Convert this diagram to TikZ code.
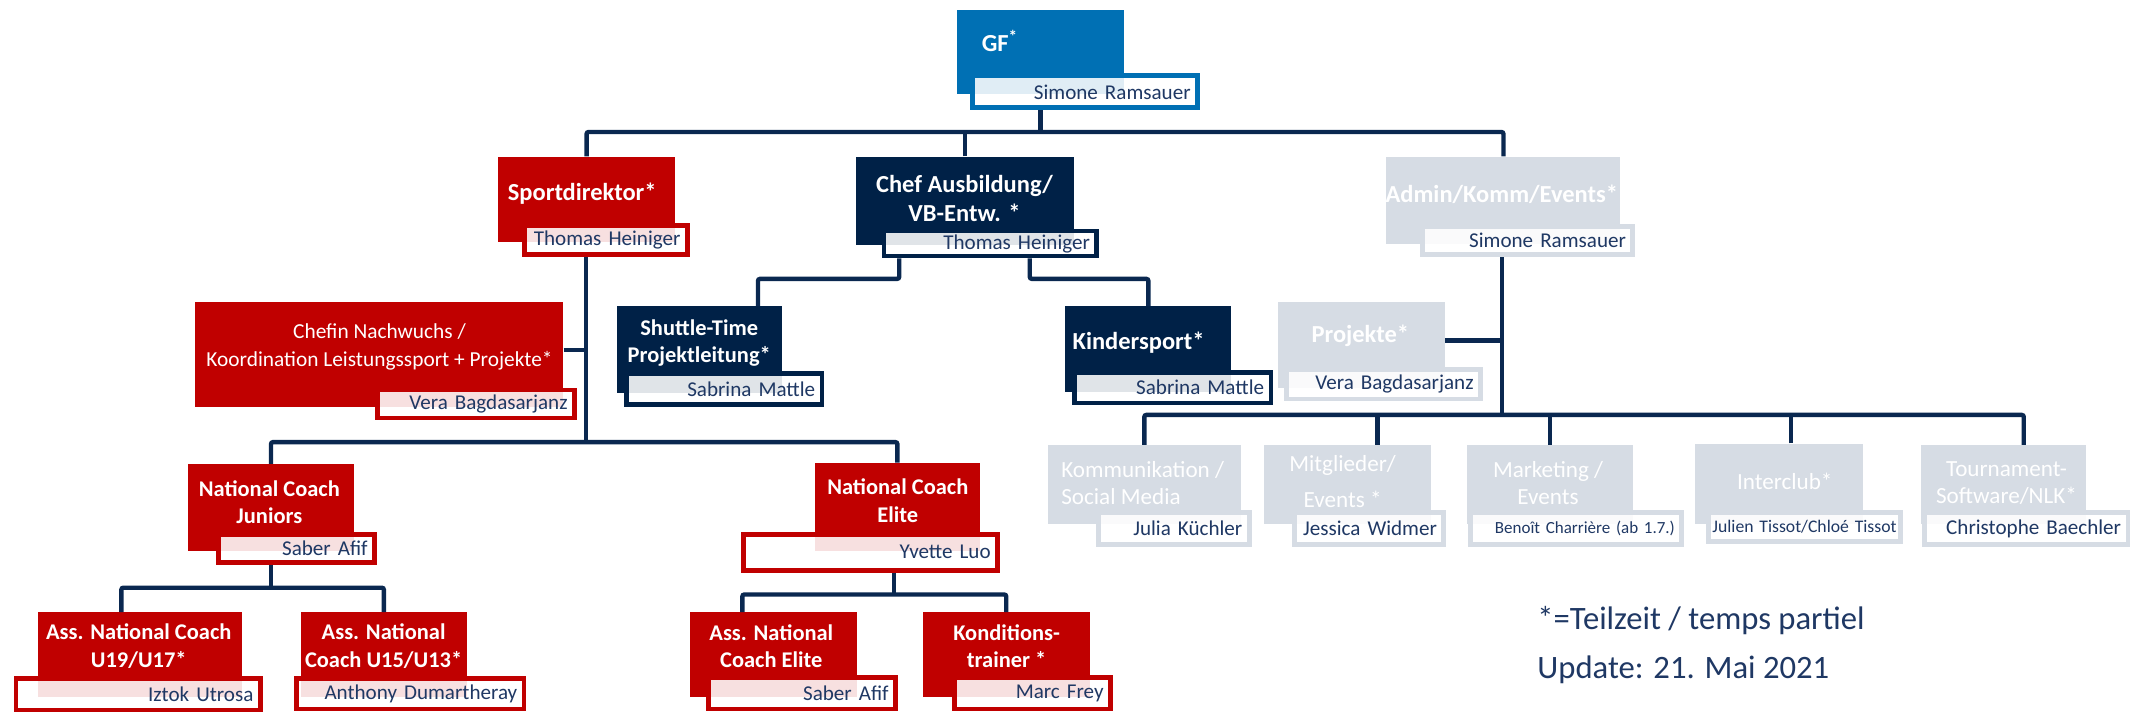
\documentclass[tikz,border=0pt]{standalone}
\usepackage{fontspec}
\setmainfont{Carlito}
\usetikzlibrary{positioning, calc}
\definecolor{gf blue}{RGB}{0,112,180}
\definecolor{sport red}{RGB}{192,0,0}
\definecolor{school navy}{RGB}{0,33,71}
\definecolor{admin grey}{RGB}{214,220,228}
\definecolor{name ink}{RGB}{31,56,100}
\definecolor{line navy}{RGB}{10,40,80}
\newcommand{\boxheadfont}{\fontsize{18}{21}\selectfont\bfseries}
\newcommand{\boxsmallheadfont}{\fontsize{16.5}{20}\selectfont\bfseries}
\newcommand{\boxplainfont}{\fontsize{17}{20}\selectfont}
\newcommand{\boxnamefont}{\fontsize{15.5}{18}\selectfont}
\tikzset{unitbox/.style={anchor=north west, inner sep=0pt, fill=#1}}
\tikzset{namebox/.style={anchor=north west, draw=#1, line width=3.5pt, fill=white, fill opacity=0.88, text opacity=1, inner xsep=5pt, inner ysep=0pt, align=right, text=name ink, font=\boxnamefont}}
\tikzset{headline/.style={text=white, align=center, inner sep=0pt, font=\boxheadfont}}
\tikzset{plainline/.style={text=white, align=center, inner sep=0pt, font=\boxplainfont}}
\tikzset{link/.style={draw=line navy, line width=3.2pt, rounded corners=1.5pt}}

\begin{document}
\begin{tikzpicture}[x=1pt, y=-1pt]
    \fill[white] (0,0) rectangle (1568,523);
    \useasboundingbox (0,0) rectangle (1568,523);

    % Geschaeftsfuehrung
    \node[unitbox=gf blue, minimum width=123, minimum height=62] (gf) at (703,7) {};
    \node[headline] (gf-t) at (735,30) {GF\textsuperscript{*}};
    \node[namebox=gf blue, text width=155.5, minimum height=23.5] (gf-n) at (713,54) {Simone Ramsauer};

    % erste Ebene
    \node[unitbox=sport red, minimum width=130, minimum height=63] (sport) at (366,115) {};
    \node[headline] (sport-t) at (428,142) {Sportdirektor*};
    \node[namebox=sport red, text width=109.5, minimum height=21.5] (sport-n) at (384,164) {Thomas Heiniger};

    \node[unitbox=school navy, minimum width=160, minimum height=65] (chef) at (629,115) {};
    \node[headline] (chef-t) at (709,146) {Chef Ausbildung/\\VB-Entw. *};
    \node[namebox=school navy, text width=146.5, minimum height=18.5] (chef-n) at (648,168) {Thomas Heiniger};

    \node[unitbox=admin grey, minimum width=172, minimum height=64] (admin) at (1019,115) {};
    \node[headline] (admin-t) at (1104,143) {Admin/Komm/Events*};
    \node[namebox=admin grey, text width=144.5, minimum height=20.5] (admin-n) at (1044,165) {Simone Ramsauer};

    % zweite Ebene
    \node[unitbox=sport red, minimum width=271, minimum height=77] (chefin) at (143,222) {};
    \node[headline, font=\fontsize{15.7}{20}\selectfont] (chefin-t) at (279,255) {Chefin Nachwuchs /\\Koordination Leistungssport + Projekte*};
    \node[namebox=sport red, text width=134.5, minimum height=20.5] (chefin-n) at (276,285) {Vera Bagdasarjanz};

    \node[unitbox=school navy, minimum width=122, minimum height=64] (shuttle) at (453,225) {};
    \node[headline, font=\boxsmallheadfont] (shuttle-t) at (514,252) {Shuttle-Time\\Projektleitung*};
    \node[namebox=school navy, text width=133.5, minimum height=22.5] (shuttle-n) at (459,273) {Sabrina Mattle};

    \node[unitbox=school navy, minimum width=122, minimum height=63] (kinder) at (783,225) {};
    \node[headline] (kinder-t) at (837,252) {Kindersport*};
    \node[namebox=school navy, text width=134.5, minimum height=22.5] (kinder-n) at (788,272) {Sabrina Mattle};

    \node[unitbox=admin grey, minimum width=123, minimum height=63] (proj) at (939,222) {};
    \node[headline] (proj-t) at (1000,247) {Projekte*};
    \node[namebox=admin grey, text width=132.5, minimum height=21.5] (proj-n) at (944,270) {Vera Bagdasarjanz};

    % Nationalkader
    \node[unitbox=sport red, minimum width=122, minimum height=64] (ncj) at (138,341) {};
    \node[headline, font=\boxsmallheadfont] (ncj-t) at (198,369) {National Coach\\Juniors};
    \node[namebox=sport red, text width=104.5, minimum height=20.5] (ncj-n) at (159,391) {Saber Afif};

    \node[unitbox=sport red, minimum width=121, minimum height=65] (nce) at (599,340) {};
    \node[headline, font=\boxsmallheadfont] (nce-t) at (660,368) {National Coach\\Elite};
    \node[namebox=sport red, text width=176.5, minimum height=26.5] (nce-n) at (545,391) {Yvette Luo};

    \node[unitbox=sport red, minimum width=150, minimum height=62] (a19) at (28,450) {};
    \node[headline, font=\boxsmallheadfont] (a19-t) at (102,475) {Ass. National Coach\\U19/U17*};
    \node[namebox=sport red, text width=169.5, minimum height=23.5] (a19-n) at (10,497) {Iztok Utrosa};

    \node[unitbox=sport red, minimum width=122, minimum height=62] (a15) at (221,450) {};
    \node[headline, font=\boxsmallheadfont] (a15-t) at (282,475) {Ass. National\\Coach U15/U13*};
    \node[namebox=sport red, text width=157.5, minimum height=22.5] (a15-n) at (216,497) {Anthony Dumartheray};

    \node[unitbox=sport red, minimum width=123, minimum height=62] (aelite) at (507,450) {};
    \node[headline, font=\boxsmallheadfont] (aelite-t) at (567,475) {Ass. National\\Coach Elite};
    \node[namebox=sport red, text width=127.5, minimum height=23.5] (aelite-n) at (519,496) {Saber Afif};

    \node[unitbox=sport red, minimum width=123, minimum height=62] (kond) at (678,450) {};
    \node[headline, font=\boxsmallheadfont] (kond-t) at (740,475) {Konditions-\\trainer *};
    \node[namebox=sport red, text width=104.5, minimum height=23.5] (kond-n) at (700,496) {Marc Frey};

    % Admin-Bereich
    \node[unitbox=admin grey, minimum width=142, minimum height=58] (komm) at (770,327) {};
    \node[plainline, align=left, anchor=west] (komm-t) at (780,355) {Kommunikation /\\Social Media};
    \node[namebox=admin grey, text width=100.5, minimum height=23.5] (komm-n) at (806,375) {Julia Küchler};

    \node[unitbox=admin grey, minimum width=123, minimum height=58] (mitg) at (929,327) {};
    \node[plainline] (mitg-t) at (987,354) {Mitglieder/\\[7pt]Events *};
    \node[namebox=admin grey, text width=99.5, minimum height=23.5] (mitg-n) at (950,375) {Jessica Widmer};

    \node[unitbox=admin grey, minimum width=122, minimum height=58] (mark) at (1078,327) {};
    \node[plainline] (mark-t) at (1138,355) {Marketing /\\Events};
    \node[namebox=admin grey, text width=145.5, minimum height=23.5, font=\fontsize{12.5}{15}\selectfont] (mark-n) at (1079,375) {Benoît Charrière (ab 1.7.)};

    \node[unitbox=admin grey, minimum width=123, minimum height=59] (inter) at (1246,326) {};
    \node[plainline] (inter-t) at (1312,354) {Interclub*};
    \node[namebox=admin grey, inner xsep=3pt, text width=135.5, minimum height=21.5, font=\fontsize{13}{15}\selectfont] (inter-n) at (1254,375) {Julien Tissot/Chloé Tissot};

    \node[unitbox=admin grey, minimum width=121, minimum height=58] (tourn) at (1412,327) {};
    \node[plainline] (tourn-t) at (1475,355) {Tournament-\\Software/NLK*};
    \node[namebox=admin grey, text width=139.5, minimum height=23.5] (tourn-n) at (1413,375) {Christophe Baechler};

    % Verbindungen
    \coordinate (topbus) at (765,97);
    \coordinate (nbus) at (431,325);
    \coordinate (gbus) at (1104,305);
    \coordinate (jbus) at (199,432);
    \coordinate (ebus) at (657,437);

    \draw[link] (gf-n.south -| topbus) -- (topbus);
    \draw[link] (sport.north) |- (topbus) -| (admin.north);
    \draw[link] (chef.north) -- (chef.north |- topbus);

    \draw[link] ([xshift=-67]chef-n.south) -- ++(0,15) -| ([xshift=43]shuttle.north);
    \draw[link] ([xshift=29]chef-n.south) -- ++(0,15) -| (kinder.north);

    \draw[link] (sport-n.south -| nbus) -- (nbus);
    \draw[link] ([yshift=3.5]chefin.east) -- ++(17,0);
    \draw[link] (ncj.north) |- (nbus) -| (nce.north);

    \draw[link] (ncj-n.south -| jbus) -- (jbus);
    \draw[link] ([xshift=-14]a19.north) |- (jbus) -| (a15.north);
    \draw[link] (nce-n.south -| ebus) -- (ebus);
    \draw[link] ([xshift=-23]aelite.north) |- (ebus) -| (kond.north);

    \draw[link] (admin-n.south -| gbus) -- (gbus);
    \draw[link] ([yshift=3.5]proj.east) -- ++(42,0);
    \draw[link] (komm.north) |- (gbus) -| ([xshift=15]tourn.north);
    \foreach \n/\s in {mitg/22, mark/0, inter/9}
        \draw[link] ([xshift=\s]\n.north) -- ++(0,-22);

    % Legende
    \node[anchor=west, inner sep=0pt, text=name ink, font=\fontsize{24}{28}\selectfont] (note) at (1130,456) {*=Teilzeit / temps partiel};
    \node[anchor=west, inner sep=0pt, text=name ink, font=\fontsize{24}{28}\selectfont] (update) at (1130,492) {Update: 21. Mai 2021};
\end{tikzpicture}
\end{document}
